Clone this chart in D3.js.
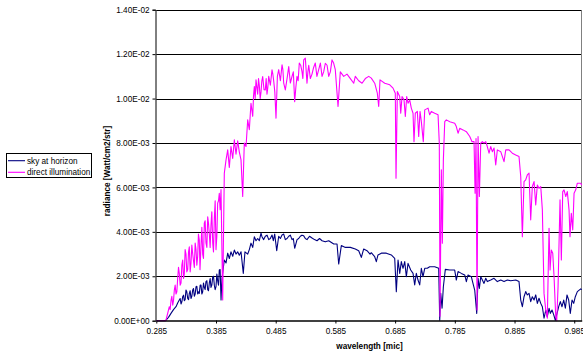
<!DOCTYPE html>
<html>
<head>
<meta charset="utf-8">
<script src="https://cdn.jsdelivr.net/npm/d3@7"></script>
<style>
  html, body { margin: 0; padding: 0; background: #fff; }
  svg { display: block; font-family: "Liberation Sans", Arial, sans-serif; }
</style>
</head>
<body>
<svg id="chart" width="583" height="354"></svg>
<script>
// Radiance spectra, radiance in units of 1e-3 W/cm2/str, wavelength in microns.
const seriesNames = ["sky at horizon", "direct illumination"];
const seriesColors = ["#000080", "#ff00ff"];

const xTickValues = [0.285, 0.385, 0.485, 0.585, 0.685, 0.785, 0.885, 0.985];
const xTickLabels = ["0.285", "0.385", "0.485", "0.585", "0.685", "0.785", "0.885", "0.985"];
const yTickValues = [0, 2, 4, 6, 8, 10, 12, 14];
const yTickLabels = ["0.00E+00", "2.00E-03", "4.00E-03", "6.00E-03", "8.00E-03", "1.00E-02", "1.20E-02", "1.40E-02"];

const skyAtHorizon = [
  [0.285,0],[0.300,0],[0.3012,0.02],[0.3096,0.33],[0.318,0.63],[0.3235,0.93],[0.3264,0.75],[0.3292,1.08],
  [0.3319,0.9],[0.3347,1.38],[0.3376,1.0],[0.3403,1.23],[0.3431,1.0],[0.346,1.38],[0.3487,1.1],[0.3515,1.53],
  [0.3543,1.2],[0.357,1.23],[0.3599,1.6],[0.3627,1.3],[0.3654,1.5],[0.3682,1.76],[0.3711,1.4],[0.3738,1.7],
  [0.3766,1.5],[0.3795,1.98],[0.3822,1.6],[0.385,1.53],[0.3878,1.8],[0.3905,2.28],[0.3934,0.93],[0.395,1.9],
  [0.3989,2.73],[0.4018,2.6],[0.4046,3.04],[0.4073,2.8],[0.4101,3.1],[0.413,2.9],[0.4157,3.18],[0.4185,3.0],
  [0.4213,3.1],[0.424,2.95],[0.4269,3.1],[0.4307,2.13],[0.4335,3.1],[0.4381,3.0],[0.4408,3.2],[0.4436,3.49],
  [0.4465,3.3],[0.4492,3.78],[0.452,3.6],[0.4548,3.7],[0.4575,3.6],[0.4604,3.94],[0.462,3.78],[0.4676,3.8],
  [0.4733,3.65],[0.4788,3.86],[0.4833,3.9],[0.4867,3.15],[0.49,3.8],[0.4956,3.86],[0.5011,3.65],[0.5068,3.8],
  [0.5123,3.65],[0.5168,3.26],[0.5207,3.65],[0.5262,3.8],[0.5319,3.82],[0.5374,3.65],[0.5458,3.72],[0.5542,3.6],
  [0.5626,3.6],[0.5738,3.6],[0.5822,3.45],[0.5877,3.45],[0.5905,2.55],[0.5949,3.38],[0.6016,3.3],[0.61,3.3],
  [0.6183,3.23],[0.624,3.15],[0.6284,2.85],[0.6324,3.23],[0.6379,3.15],[0.643,3.0],[0.6451,3.06],[0.6508,2.88],
  [0.6535,2.66],[0.6563,2.96],[0.6619,3.04],[0.6703,3.04],[0.6786,2.96],[0.6843,2.81],[0.687,1.31],[0.6899,2.73],
  [0.6927,2.13],[0.6954,2.66],[0.6982,2.36],[0.7011,2.66],[0.7038,1.98],[0.7066,2.58],[0.7111,2.28],[0.715,2.13],
  [0.7178,1.61],[0.7205,2.13],[0.7233,1.83],[0.7262,1.61],[0.7289,2.36],[0.7317,1.98],[0.7346,2.36],[0.7389,2.36],
  [0.7429,2.43],[0.7513,2.43],[0.758,2.36],[0.7597,0.02],[0.7614,1.23],[0.7636,0.56],[0.7658,1.53],[0.7691,2.31],
  [0.7765,2.28],[0.7848,2.28],[0.7875,1.83],[0.7904,2.21],[0.7959,2.13],[0.8016,2.06],[0.8043,1.76],[0.8071,2.06],
  [0.8126,1.98],[0.8154,1.68],[0.8183,1.38],[0.8217,0.33],[0.8239,1.91],[0.8261,1.45],[0.8284,1.98],[0.8311,1.83],
  [0.8339,1.68],[0.8368,1.91],[0.8394,1.76],[0.8451,1.83],[0.8507,1.91],[0.8562,1.76],[0.8619,1.83],[0.8674,1.76],
  [0.873,1.83],[0.8786,1.8],[0.887,1.83],[0.8925,1.76],[0.8954,0.93],[0.8981,0.63],[0.9009,1.08],[0.9037,1.31],
  [0.9064,1.16],[0.9093,1.23],[0.9121,0.86],[0.9148,1.08],[0.9177,0.93],[0.9205,1.16],[0.9232,0.78],[0.926,1.01],
  [0.9289,0.78],[0.9316,0.63],[0.9344,0.11],[0.9373,0.48],[0.9399,0.18],[0.9428,0.56],[0.945,0.33],[0.9478,0.48],
  [0.9507,0.26],[0.9533,0.02],[0.9562,0.33],[0.959,0.63],[0.9617,0.86],[0.9645,0.63],[0.9674,0.93],[0.9701,0.56],
  [0.9729,1.16],[0.9757,0.93],[0.9784,0.33],[0.9813,0.93],[0.9841,0.78],[0.9868,1.08],[0.9902,1.31],[0.9959,1.43],
  [0.9975,1.4]
];

// finer structure of the sky spectrum in the near-UV rise and the visible plateau
const skyFineStructure = [
  [0.3054,0.15],[0.3138,0.5],[0.3208,0.8],[0.325,1.0],[0.3278,0.85],[0.3306,1.15],[0.3333,0.95],[0.3361,1.3],
  [0.339,0.95],[0.3417,1.35],[0.3445,1.1],[0.3473,1.45],[0.3501,1.2],[0.3529,1.55],[0.3556,1.3],[0.3585,1.6],
  [0.3613,1.2],[0.364,1.7],[0.3668,1.4],[0.3697,1.8],[0.3724,1.35],[0.3752,1.9],[0.378,1.6],[0.3808,2.0],
  [0.3836,1.4],[0.3864,2.1],[0.3892,1.6],[0.3919,2.3],
  [0.4648,3.65],[0.4705,3.85],[0.476,3.7],[0.481,3.6],[0.4928,3.7],[0.4984,3.9],[0.504,3.7],[0.5095,3.85],
  [0.5145,3.7],[0.5235,3.7],[0.529,3.85],[0.5346,3.7],[0.5416,3.8],[0.55,3.65],[0.5584,3.7],[0.568,3.55]
];

const directIllumination = [
  [0.285,0],[0.300,0],[0.3012,0.02],[0.3068,0.63],[0.3096,0.9],[0.3125,0.7],[0.3152,1.38],[0.318,1.2],
  [0.3208,1.9],[0.3235,2.13],[0.3264,1.7],[0.3292,2.73],[0.3319,2.1],[0.3347,3.0],[0.3376,2.3],[0.3403,3.33],
  [0.3431,2.6],[0.346,3.0],[0.3487,2.4],[0.3515,3.2],[0.3543,2.9],[0.357,3.63],[0.3582,2.3],[0.3599,3.4],
  [0.3627,3.0],[0.3654,4.39],[0.3682,3.5],[0.3711,4.68],[0.3738,3.9],[0.3766,4.3],[0.3795,3.5],[0.3822,4.6],
  [0.385,3.2],[0.3878,5.29],[0.3905,5.74],[0.3934,5.9],[0.3962,0.93],[0.3989,6.64],[0.4018,7.24],[0.4046,7.69],
  [0.4073,6.9],[0.4101,7.84],[0.413,7.3],[0.4157,8.14],[0.4185,7.5],[0.4213,8.1],[0.424,7.6],[0.4269,7.24],
  [0.4297,5.59],[0.4324,8.0],[0.4353,7.84],[0.4381,9.04],[0.4408,8.6],[0.4436,9.79],[0.4465,9.2],[0.4492,10.54],
  [0.452,10.84],[0.4548,10.2],[0.4575,10.6],[0.4604,10.3],[0.4632,10.99],[0.4654,10.4],[0.4676,10.39],[0.4704,10.2],
  [0.4733,11.0],[0.4788,11.29],[0.4816,10.8],[0.4855,9.12],[0.49,11.3],[0.4956,11.52],[0.4984,10.7],[0.5011,10.39],
  [0.5068,11.44],[0.5123,11.0],[0.5168,9.86],[0.5207,11.0],[0.5245,11.6],[0.5291,11.2],[0.5319,11.74],[0.5346,11.82],
  [0.5374,10.69],[0.5403,11.5],[0.5458,11.1],[0.5513,11.6],[0.557,11.3],[0.5626,11.0],[0.5681,11.59],[0.5738,11.0],
  [0.5793,11.74],[0.5848,11.3],[0.5894,9.64],[0.5932,11.2],[0.5989,11.0],[0.6044,11.1],[0.61,10.9],[0.6157,10.69],
  [0.6183,11.0],[0.624,10.8],[0.6296,10.69],[0.6351,10.9],[0.6408,11.0],[0.6451,10.92],[0.6508,10.69],[0.6552,10.24],
  [0.6575,9.64],[0.6597,10.84],[0.6676,10.69],[0.676,10.62],[0.6815,10.47],[0.6853,10.24],[0.6865,6.41],[0.6887,10.32],
  [0.6927,10.09],[0.6944,9.34],[0.6966,10.09],[0.6999,9.94],[0.7021,9.19],[0.7044,10.09],[0.7066,9.79],[0.7094,9.94],
  [0.7121,9.57],[0.715,9.34],[0.7166,8.06],[0.7188,9.34],[0.7222,9.42],[0.7245,8.29],[0.7267,9.42],[0.7289,8.96],
  [0.7322,8.06],[0.7346,9.49],[0.7401,9.57],[0.7429,9.27],[0.7456,9.42],[0.7513,9.34],[0.7569,9.27],[0.759,7.99],
  [0.7602,0.2],[0.7624,6.79],[0.7641,3.49],[0.7658,7.24],[0.7681,8.96],[0.7708,9.04],[0.7765,8.96],[0.7848,8.89],
  [0.7875,8.74],[0.7904,8.44],[0.7932,8.66],[0.7987,8.59],[0.8043,8.51],[0.81,8.29],[0.8138,8.06],[0.8172,8.06],
  [0.8189,5.74],[0.8205,8.2],[0.8222,0.48],[0.8239,8.29],[0.8261,5.59],[0.8284,7.99],[0.8311,8.06],[0.8339,7.99],
  [0.8368,8.06],[0.8394,7.84],[0.8423,7.54],[0.8451,7.84],[0.8478,7.61],[0.8507,7.77],[0.8535,7.01],[0.8562,7.69],
  [0.8619,7.61],[0.8674,7.16],[0.8703,7.69],[0.8758,7.69],[0.8813,7.54],[0.887,7.46],[0.8925,7.39],[0.8954,6.49],
  [0.8981,3.78],[0.9009,6.26],[0.9037,6.34],[0.9064,6.56],[0.9093,6.64],[0.9121,4.54],[0.9148,6.04],[0.9177,6.26],
  [0.9205,5.21],[0.9232,6.11],[0.926,5.96],[0.9289,6.04],[0.9316,4.99],[0.9344,1.23],[0.9373,0.48],[0.9399,0.11],
  [0.9428,4.16],[0.9445,2.28],[0.9466,3.18],[0.949,3.04],[0.9512,1.98],[0.954,0.18],[0.9557,0],[0.9579,1.53],
  [0.9612,5.44],[0.9634,2.73],[0.9657,5.81],[0.9679,5.89],[0.9708,5.59],[0.9734,5.81],[0.9763,4.99],[0.9779,3.78],
  [0.9801,4.84],[0.9825,4.09],[0.9847,5.74],[0.9875,5.89],[0.9902,6.19],[0.9959,6.19],[0.9975,6.1]
];

// finer structure of the direct spectrum in the near-UV rise and around the peak
const directFineStructure = [
  [0.3082,0.5],[0.311,1.1],[0.3138,0.9],[0.3166,1.6],[0.3194,1.3],[0.3222,2.4],[0.325,1.6],[0.3278,2.5],
  [0.3306,1.9],[0.3333,3.2],[0.3361,2.2],[0.339,3.1],[0.3417,2.2],[0.3445,3.4],[0.3473,2.7],[0.3501,3.5],
  [0.3529,2.5],[0.3556,3.9],[0.3613,4.2],[0.364,2.8],[0.3668,4.5],[0.3697,3.3],[0.3724,4.4],[0.3752,3.3],
  [0.378,4.9],[0.3808,3.1],[0.3836,5.4],[0.3864,3.8],[0.3892,5.4],[0.3919,5.0],
  [0.4422,9.2],[0.4478,10.1],[0.4506,10.0],[0.4562,10.9],[0.459,10.0],[0.4618,10.8],[0.469,10.9],[0.4718,10.5],
  [0.476,10.6],[0.4802,11.1],[0.4835,10.3],[0.4878,11.0],[0.4928,10.8],[0.497,11.3],[0.504,10.9],[0.5095,10.7],
  [0.5145,11.2],[0.5187,10.5],[0.5226,10.8],[0.5268,11.5],[0.5305,10.9],[0.5389,11.2],[0.543,10.9],[0.5485,11.4],
  [0.554,11.0],[0.5598,11.6],[0.5653,11.2],[0.571,11.5],[0.5765,11.2],[0.582,11.6]
];

const byWavelength = (a, b) => a[0] - b[0];
const seriesData = [
  skyAtHorizon.concat(skyFineStructure).sort(byWavelength),
  directIllumination.concat(directFineStructure).sort(byWavelength)
];

const svg = d3.select("#chart");
const plot = { left: 156.3, right: 581.7, top: 9.7, bottom: 320.7 };

const x = d3.scaleLinear().domain([0.285, 0.9975]).range([plot.left, plot.right]);
const y = d3.scaleLinear().domain([0, 14]).range([plot.bottom, plot.top]);

const fontSize = 8.2;

// horizontal gridlines (the top one closes the plot frame)
svg.append("g")
  .selectAll("line")
  .data(yTickValues.slice(1))
  .join("line")
  .attr("x1", plot.left).attr("x2", plot.right)
  .attr("y1", d => Math.round(y(d)) + 0.5).attr("y2", d => Math.round(y(d)) + 0.5)
  .attr("stroke", "#000").attr("stroke-width", 1);

// right frame edge
svg.append("line")
  .attr("x1", Math.round(plot.right) - 0.5).attr("x2", Math.round(plot.right) - 0.5)
  .attr("y1", Math.round(y(14)) + 0.5).attr("y2", plot.bottom)
  .attr("stroke", "#808080").attr("stroke-width", 1);

// spectra
const line = d3.line().x(d => x(d[0])).y(d => y(d[1]));
seriesData.forEach((series, i) => {
  svg.append("path")
    .datum(series)
    .attr("d", line)
    .attr("fill", "none")
    .attr("stroke", seriesColors[i])
    .attr("stroke-width", 1.1)
    .attr("stroke-linejoin", "round");
});

// y axis
const yAxis = d3.axisLeft(y)
  .tickValues(yTickValues)
  .tickFormat((d, i) => yTickLabels[i])
  .tickSize(3)
  .tickPadding(3);
const gy = svg.append("g")
  .attr("transform", `translate(${Math.round(plot.left) - 0.5},0)`)
  .call(yAxis);
gy.select(".domain").attr("stroke", "#000");
gy.selectAll(".tick line").attr("stroke", "#000");
gy.selectAll(".tick text")
  .attr("font-family", "'Liberation Sans', Arial, sans-serif")
  .attr("font-size", fontSize).attr("fill", "#000");

// x axis
const xAxis = d3.axisBottom(x)
  .tickValues(xTickValues)
  .tickFormat((d, i) => xTickLabels[i])
  .tickSize(3)
  .tickSizeOuter(0)
  .tickPadding(5);
const gx = svg.append("g")
  .attr("transform", `translate(0,${Math.round(plot.bottom) - 0.5})`)
  .call(xAxis);
gx.select(".domain").attr("stroke", "#000").attr("stroke-width", 1.5);
gx.selectAll(".tick line").attr("stroke", "#000");
gx.selectAll(".tick text")
  .attr("font-family", "'Liberation Sans', Arial, sans-serif")
  .attr("font-size", fontSize).attr("fill", "#000");

// axis titles
svg.append("text")
  .attr("x", 369.5).attr("y", 348.5)
  .attr("text-anchor", "middle")
  .attr("font-size", fontSize).attr("font-weight", "bold")
  .text("wavelength [mic]");

svg.append("text")
  .attr("transform", "translate(109.5,171) rotate(-90)")
  .attr("text-anchor", "middle")
  .attr("font-size", fontSize).attr("font-weight", "bold")
  .text("radiance [Watt/cm2/str]");

// legend
const legend = svg.append("g");
legend.append("rect")
  .attr("x", 6.5).attr("y", 153.5).attr("width", 85).attr("height", 24)
  .attr("fill", "#fff").attr("stroke", "#000").attr("stroke-width", 1);
seriesNames.forEach((name, i) => {
  const ly = 160.7 + i * 11.6;
  legend.append("line")
    .attr("x1", 8).attr("x2", 25).attr("y1", ly).attr("y2", ly)
    .attr("stroke", seriesColors[i]).attr("stroke-width", 1.1);
  legend.append("text")
    .attr("x", 27).attr("y", ly + 2.9)
    .attr("font-size", fontSize).attr("fill", "#000")
    .text(name);
});
</script>
</body>
</html>
